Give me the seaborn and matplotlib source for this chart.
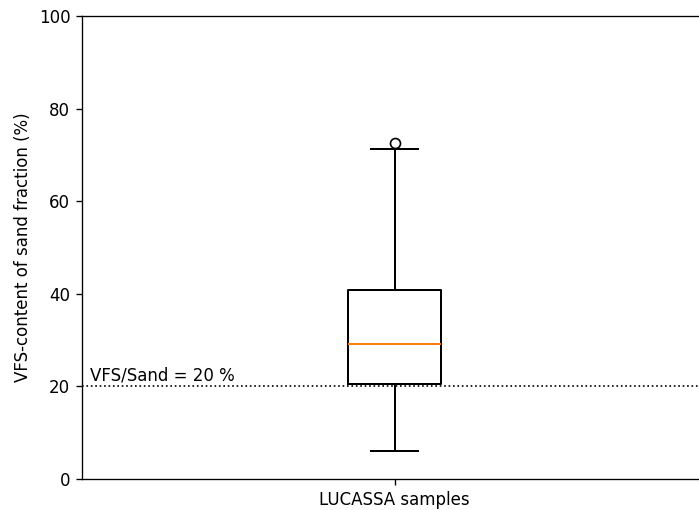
import pandas as pd
import matplotlib
matplotlib.use("Agg")
import matplotlib.pyplot as plt
import seaborn as sns

# sample values (min, quartiles, max whisker, outlier)
group_name = "LUCASSA samples"
vfs_values = [6.1, 12.0, 17.5, 20.5, 23.0, 26.5, 29.2, 33.0, 37.0, 40.8, 52.0, 71.2, 72.5]
threshold = 20
threshold_label = "VFS/Sand = 20 %"
y_ticks = [0, 20, 40, 60, 80, 100]

df = pd.DataFrame({"group": [group_name] * len(vfs_values), "vfs": vfs_values})

fig = plt.figure(figsize=(699 / 120, 510 / 120), dpi=120)
ax = fig.add_axes([82 / 699, 1 - 479 / 510, 625 / 699, 463 / 510])

sns.boxplot(
    data=df, x="group", y="vfs", ax=ax,
    width=0.15, fill=False, color="black", linewidth=1.2,
    medianprops={"color": "#ff7f0e", "linewidth": 1.2},
    flierprops={"marker": "o", "markerfacecolor": "none",
                "markeredgecolor": "black", "markersize": 6},
)

ax.axhline(threshold, color="black", linestyle=":", linewidth=1)
ax.text(-0.488, threshold + 0.4, threshold_label, fontsize=10, va="bottom", ha="left")

ax.set_ylim(0, 100)
ax.set_yticks(y_ticks)
ax.set_xlim(-0.5, 0.5)
ax.set_xlabel("")
ax.set_ylabel("VFS-content of sand fraction (%)")

fig.savefig("out.png", dpi=120)
